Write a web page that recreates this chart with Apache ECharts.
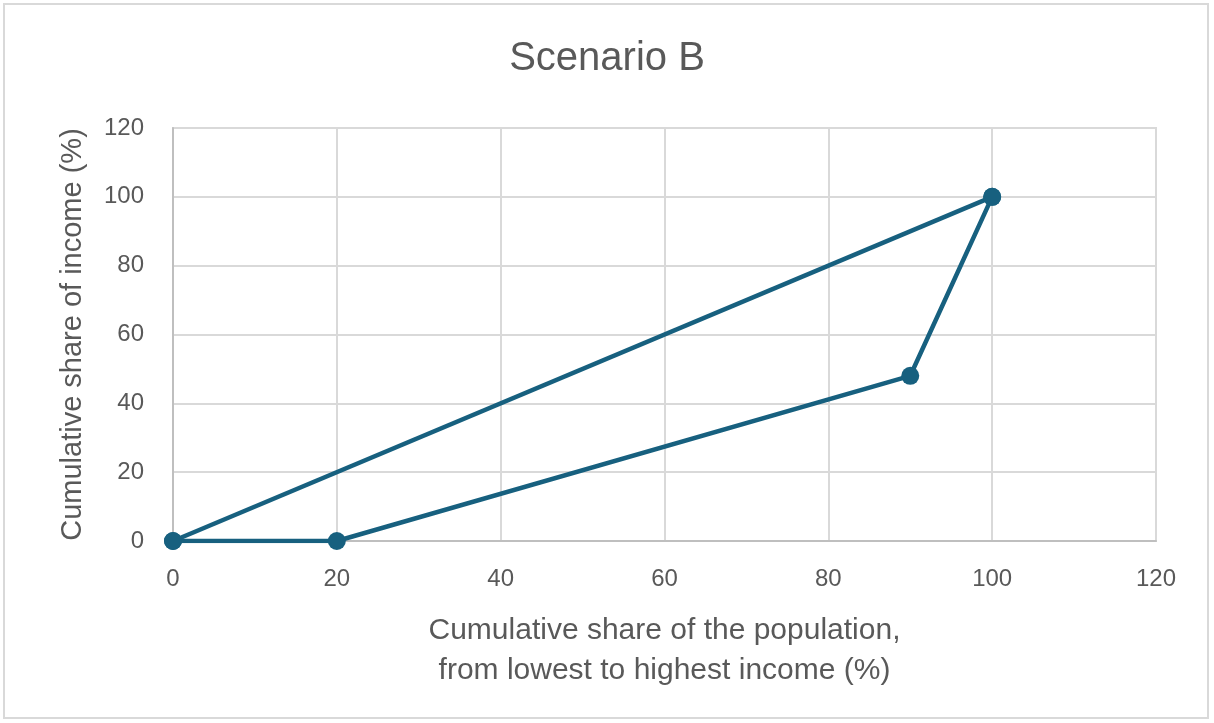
<!DOCTYPE html>
<html>
<head>
<meta charset="utf-8">
<script src="https://cdn.jsdelivr.net/npm/echarts@6/dist/echarts.min.js"></script>
<style>
  html, body { margin: 0; padding: 0; background: #fff; }
  #frame { position: absolute; left: 3px; top: 3px; width: 1206px; height: 716px; border: 2px solid #d9d9d9; box-sizing: border-box; }
  #chart { position: absolute; left: 0; top: 0; width: 1214px; height: 723px; }
</style>
</head>
<body>
<div id="frame"></div>
<div id="chart"></div>
<script>
// Line of equality and the Lorenz curve for Scenario B
const equalityX = [0, 100];
const equalityY = [0, 100];
const lorenzX = [0, 20, 90, 100];
const lorenzY = [0, 0, 48, 100];
const axisTicks = [0, 20, 40, 60, 80, 100, 120];

const lineColor = '#17607f';
const textColor = '#595959';
const font = 'Liberation Sans, Arial, sans-serif';

const chart = echarts.init(document.getElementById('chart'), null, { renderer: 'canvas' });

const toPairs = (xs, ys) => xs.map((x, i) => [x, ys[i]]);

chart.setOption({
  animation: false,
  title: {
    text: 'Scenario B',
    left: 'center',
    top: 34,
    textStyle: { fontFamily: font, fontSize: 40, fontWeight: 'normal', color: textColor }
  },
  grid: { left: 173, right: 58, top: 128, bottom: 182 },
  xAxis: {
    type: 'value',
    min: axisTicks[0],
    max: axisTicks[axisTicks.length - 1],
    interval: 20,
    name: 'Cumulative share of the population,\nfrom lowest to highest income (%)',
    nameLocation: 'middle',
    nameGap: 70,
    nameTextStyle: { fontFamily: font, fontSize: 30, color: textColor, lineHeight: 40 },
    axisLine: { show: true, lineStyle: { color: '#bfbfbf', width: 2 } },
    axisTick: { show: false },
    axisLabel: { margin: 26, fontFamily: font, fontSize: 24, color: textColor },
    splitLine: { show: true, lineStyle: { color: '#d9d9d9', width: 2 } }
  },
  yAxis: {
    type: 'value',
    min: axisTicks[0],
    max: axisTicks[axisTicks.length - 1],
    interval: 20,
    name: 'Cumulative share of income (%)',
    nameLocation: 'middle',
    nameGap: 86,
    nameTextStyle: { fontFamily: font, fontSize: 29, color: textColor },
    axisLine: { show: true, lineStyle: { color: '#bfbfbf', width: 2 } },
    axisTick: { show: false },
    axisLabel: { margin: 29, fontFamily: font, fontSize: 24, color: textColor },
    splitLine: { show: true, lineStyle: { color: '#d9d9d9', width: 2 } }
  },
  series: [
    {
      name: 'Equality',
      type: 'line',
      data: toPairs(equalityX, equalityY),
      symbol: 'circle',
      symbolSize: 18,
      lineStyle: { color: lineColor, width: 4.5 },
      itemStyle: { color: lineColor },
      z: 3
    },
    {
      name: 'Lorenz curve',
      type: 'line',
      data: toPairs(lorenzX, lorenzY),
      symbol: 'circle',
      symbolSize: 18,
      lineStyle: { color: lineColor, width: 4.5 },
      itemStyle: { color: lineColor },
      z: 3
    }
  ],
  graphic: [
    // closing border on the top and right of the plot area
    {
      type: 'rect',
      shape: { x: 173, y: 128, width: 1156 - 173, height: 541 - 128 },
      style: { fill: 'none', stroke: '#d9d9d9', lineWidth: 2 },
      silent: true,
      z: 0
    }
  ]
});
</script>
</body>
</html>
